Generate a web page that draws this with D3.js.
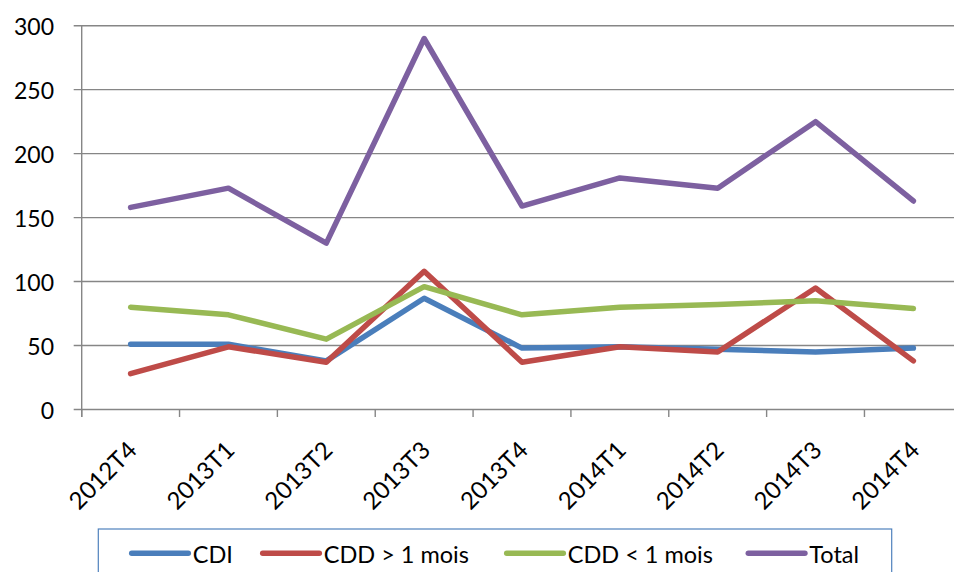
<!DOCTYPE html>
<html>
<head>
<meta charset="utf-8">
<script src="https://cdn.jsdelivr.net/npm/d3@7"></script>
<style>
  html, body { margin: 0; padding: 0; background: #fff; }
  svg { display: block; font-family: Lato, "Open Sans", sans-serif; }
</style>
</head>
<body>
<div id="chart"></div>
<script>
// data
const quarters = ["2012T4", "2013T1", "2013T2", "2013T3", "2013T4", "2014T1", "2014T2", "2014T3", "2014T4"];
const cdi      = [51, 51, 38, 87, 48, 49, 47, 45, 48];
const cddLong  = [28, 49, 37, 108, 37, 49, 45, 95, 38];
const cddShort = [80, 74, 55, 96, 74, 80, 82, 85, 79];
const total    = [158, 173, 130, 290, 159, 181, 173, 225, 163];
const yTicks   = [0, 50, 100, 150, 200, 250, 300];

const series = [
    { name: "CDI",          values: cdi,      color: "#4a7ebb" },
    { name: "CDD > 1 mois", values: cddLong,  color: "#be4b48" },
    { name: "CDD < 1 mois", values: cddShort, color: "#98b954" },
    { name: "Total",        values: total,    color: "#7d60a0" }
];

const width = 954, height = 572;
const plot = { left: 81.7, right: 962.3, top: 25.7, bottom: 409.5 };

const svg = d3.select("#chart")
    .append("svg")
    .attr("width", width)
    .attr("height", height);

const x = d3.scaleBand()
    .domain(quarters)
    .range([plot.left, plot.right])
    .paddingInner(0)
    .paddingOuter(0);

const y = d3.scaleLinear()
    .domain([0, 300])
    .range([plot.bottom, plot.top]);

const xc = q => x(q) + x.bandwidth() / 2;

// gridlines (they also make the small left ticks)
svg.append("g")
    .selectAll("line")
    .data(yTicks)
    .enter()
    .append("line")
    .attr("x1", plot.left - 8)
    .attr("x2", width)
    .attr("y1", d => y(d))
    .attr("y2", d => y(d))
    .attr("stroke", "#868686")
    .attr("stroke-width", 1.4);

// y axis line
svg.append("line")
    .attr("x1", plot.left).attr("x2", plot.left)
    .attr("y1", plot.top).attr("y2", plot.bottom + 7.5)
    .attr("stroke", "#868686")
    .attr("stroke-width", 1.4);

// x ticks at category borders
const borders = quarters.map(q => x(q)).concat([plot.right]);
svg.append("g")
    .selectAll("line")
    .data(borders)
    .enter()
    .append("line")
    .attr("x1", d => d).attr("x2", d => d)
    .attr("y1", plot.bottom)
    .attr("y2", plot.bottom + 7.5)
    .attr("stroke", "#868686")
    .attr("stroke-width", 1.4);

// y labels
svg.append("g")
    .selectAll("text")
    .data(yTicks)
    .enter()
    .append("text")
    .attr("x", 54)
    .attr("y", d => y(d))
    .attr("text-anchor", "end")
    .attr("dominant-baseline", "central")
    .attr("fill", "#000")
    .style("font-size", "23px")
    .text(d => d);

// x labels, rotated
svg.append("g")
    .selectAll("text")
    .data(quarters)
    .enter()
    .append("text")
    .attr("transform", d => `translate(${xc(d) + 1},445) rotate(-45)`)
    .attr("text-anchor", "end")
    .attr("dominant-baseline", "central")
    .attr("fill", "#000")
    .style("font-size", "24px")
    .text(d => d);

// lines
const line = d3.line()
    .x((d, i) => xc(quarters[i]))
    .y(d => y(d));

svg.append("g")
    .selectAll("path")
    .data(series)
    .enter()
    .append("path")
    .attr("d", d => line(d.values))
    .attr("fill", "none")
    .attr("stroke", d => d.color)
    .attr("stroke-width", 5.5)
    .attr("stroke-linejoin", "round")
    .attr("stroke-linecap", "round");

// legend
svg.append("rect")
    .attr("x", 98.3)
    .attr("y", 529)
    .attr("width", 793.4)
    .attr("height", 80)
    .attr("fill", "#fff")
    .attr("stroke", "#4f81bd")
    .attr("stroke-width", 1.2);

const legendX = [131.7, 262.7, 506.7, 748.3];
const legend = svg.append("g")
    .selectAll("g")
    .data(series)
    .enter()
    .append("g")
    .attr("transform", (d, i) => `translate(${legendX[i]},553.3)`);

legend.append("line")
    .attr("x1", 0).attr("x2", 56.6)
    .attr("y1", 0).attr("y2", 0)
    .attr("stroke", d => d.color)
    .attr("stroke-width", 5.5)
    .attr("stroke-linecap", "round");

legend.append("text")
    .attr("x", 61)
    .attr("y", 1)
    .attr("dominant-baseline", "central")
    .attr("fill", "#000")
    .style("font-size", "23.5px")
    .text(d => d.name);
</script>
</body>
</html>
